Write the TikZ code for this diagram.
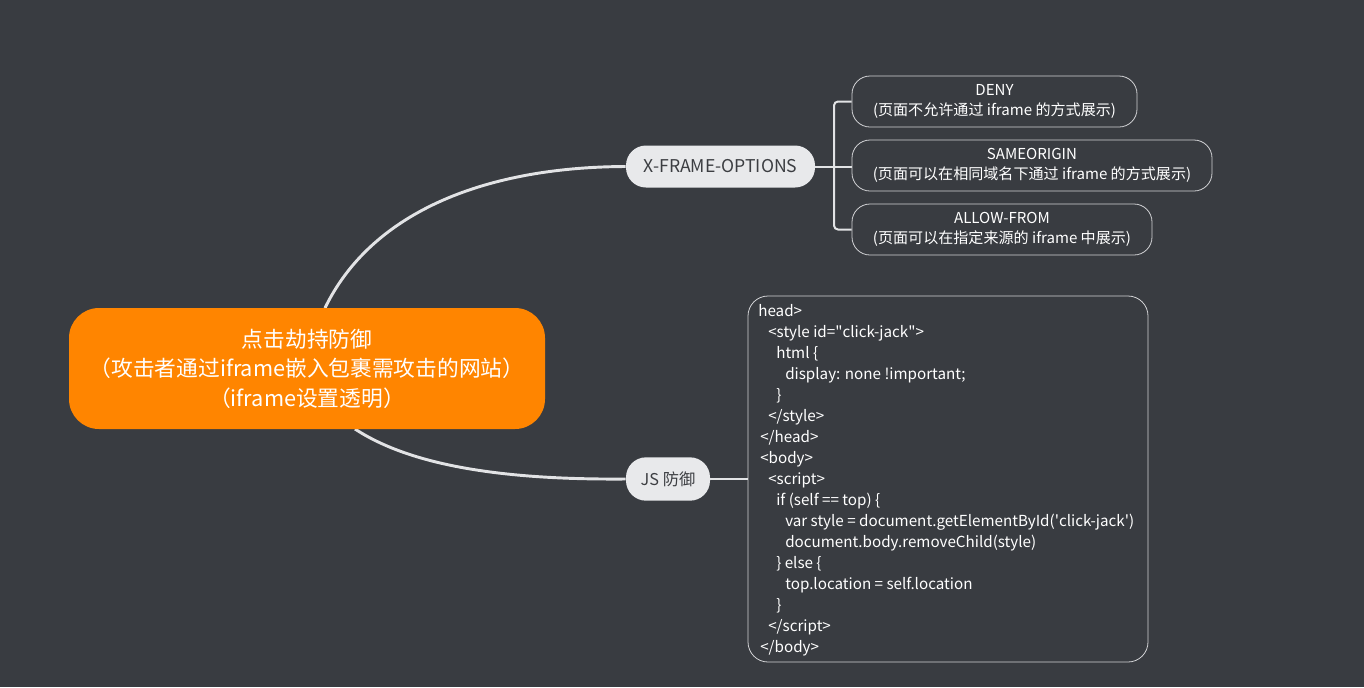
\documentclass[tikz,border=0pt]{standalone}
\usepackage{fontspec}
\setmainfont{Noto Sans CJK SC}
\definecolor{bg}{RGB}{57,60,65}
\definecolor{orangec}{RGB}{255,133,0}
\definecolor{pillc}{RGB}{232,233,235}
\definecolor{linec}{RGB}{226,227,229}
\definecolor{boxline}{RGB}{210,211,213}
\definecolor{pilltext}{RGB}{60,62,66}
\tikzset{
  pill/.style={fill=pillc, rounded corners=15pt, inner sep=0pt, text=pilltext, minimum height=31.5pt},
  child/.style={draw=boxline, line width=0.6pt, rounded corners=13.5pt, inner sep=0pt, text=white, align=center, font=\fontsize{11.3}{15.5}\selectfont, minimum height=38.25pt},
  conn/.style={draw=linec, line width=2.2pt},
  brk/.style={draw=linec, line width=1.5pt},
  codeline/.style={anchor=base west, inner sep=0pt, text=white, font=\fontsize{11.4}{12}\selectfont},
}
\begin{document}
\begin{tikzpicture}[x=0.75pt,y=-0.75pt]
\fill[bg] (0,0) rectangle (1364,687);
\useasboundingbox (0,0) rectangle (1364,687);

% connector start points on the central node
\coordinate (s1) at (325,308);
\coordinate (s2) at (355,429);

% main pills
\node[pill, minimum width=141.75pt, font=\fontsize{13.2}{15}\selectfont] (xfo) at (720.5,166.5) {X-FRAME-OPTIONS};
\node[pill, minimum width=63pt, minimum height=32.5pt, font=\fontsize{12.2}{14}\selectfont] (js) at (668,479) {JS 防御};

% curves
\draw[conn] (s1) .. controls (370,215) and (480,167) .. (xfo.west);
\draw[conn] (s2) .. controls (410,465) and (500,480) .. (js.west);

% central node
\node[fill=orangec, rounded corners=22.5pt, minimum width=357pt, minimum height=90.75pt, text=white, align=center, font=\fontsize{16.3}{22.1}\selectfont, inner sep=0pt] (root) at (307,368.5)
  {点击劫持防御\\（攻击者通过iframe嵌入包裹需攻击的网站）\\（iframe设置透明）};

% children
\node[child, minimum width=213.75pt] (c1) at (994.5,101.5) {DENY\\(页面不允许通过 iframe 的方式展示)};
\node[child, minimum width=270pt] (c2) at (1032,165.5) {SAMEORIGIN\\(页面可以在相同域名下通过 iframe 的方式展示)};
\node[child, minimum width=225pt] (c3) at (1002,229.5) {ALLOW-FROM\\(页面可以在指定来源的 iframe 中展示)};

% bracket
\coordinate (bx) at (834,166);
\draw[brk] (xfo.east) -- (c2.west |- xfo.east);
\draw[brk, rounded corners=3pt] (c1.west) -- (bx |- c1.west) -- (bx |- c3.west) -- (c3.west);

% code box
\draw[draw=boxline, line width=0.6pt, rounded corners=15pt] (748,296) rectangle (1148,662);
\coordinate (codein) at (748,479);
\draw[brk] (js.east) -- (codein);

\node[codeline] (l1) at (758,316) {head>};
\node[codeline] (l2) at (768,337) {<style id=\textquotedbl click-jack\textquotedbl>};
\node[codeline] (l3) at (776,358) {html \{};
\node[codeline] (l4) at (785,379) {display: none !important;};
\node[codeline] (l5) at (776,400) {\}};
\node[codeline] (l6) at (768,421) {</style>};
\node[codeline] (l7) at (760,442) {</head>};
\node[codeline] (l8) at (760,463) {<body>};
\node[codeline] (l9) at (768,484) {<script>};
\node[codeline] (l10) at (776,505) {if (self == top) \{};
\node[codeline] (l11) at (785,526) {var style = document.getElementById(\textquotesingle click-jack\textquotesingle)};
\node[codeline] (l12) at (785,547) {document.body.removeChild(style)};
\node[codeline] (l13) at (776,568) {\} else \{};
\node[codeline] (l14) at (785,589) {top.location = self.location};
\node[codeline] (l15) at (776,610) {\}};
\node[codeline] (l16) at (768,631) {</script>};
\node[codeline] (l17) at (760,652) {</body>};
\end{tikzpicture}
\end{document}
